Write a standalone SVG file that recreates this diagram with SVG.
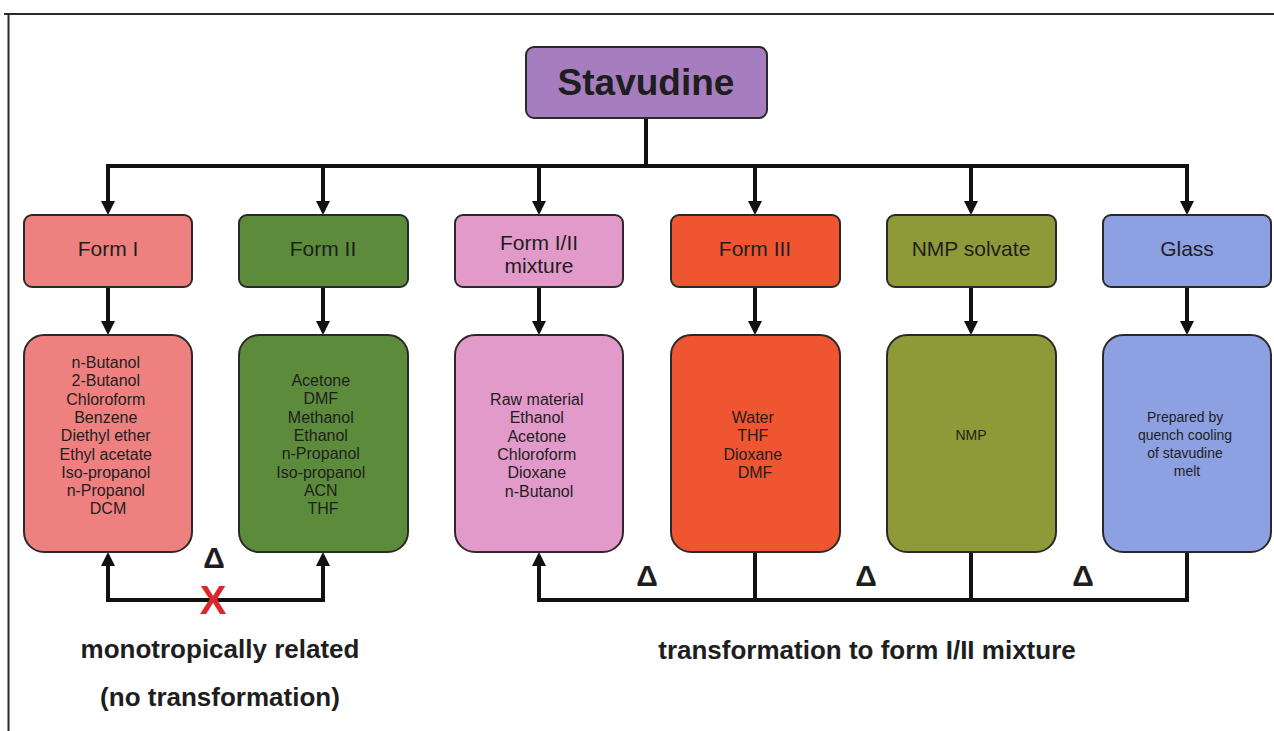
<svg xmlns="http://www.w3.org/2000/svg" width="1274" height="731" viewBox="0 0 1274 731">
  <style>
    .box { stroke: #2a2a2a; stroke-width: 2; }
    .lbl { font-family: "Liberation Sans", Arial, sans-serif; fill: #1e1e1e; text-anchor: middle; }
    .head { font-size: 21px; }
    .list { font-size: 16px; }
    .small { font-size: 14px; }
    .big { font-size: 26px; font-weight: bold; }
    .delta { font-size: 30px; font-weight: bold; }
    .conn { fill: none; stroke: #111; stroke-width: 4; }
    .arr { marker-end: url(#ah); }
  </style>
  <defs>
    <marker id="ah" viewBox="0 0 14 14" refX="6" refY="7" markerWidth="14" markerHeight="14" markerUnits="userSpaceOnUse" orient="auto">
      <path d="M0,0 L14,7 L0,14 z" fill="#111"/>
    </marker>
  </defs>

  <rect width="1274" height="731" fill="#ffffff"/>

  <!-- page frame -->
  <g id="frame" stroke="#2a2a2a" stroke-width="2" fill="none">
    <line x1="4" y1="14" x2="1274" y2="14"/>
    <line x1="8.5" y1="14" x2="8.5" y2="731"/>
  </g>

  <!-- connectors -->
  <g id="connectors">
    <path class="conn" d="M646,118 V166 M106,166 H1189"/>
    <line class="conn arr" x1="108" y1="164" x2="108" y2="207"/>
    <line class="conn arr" x1="323" y1="164" x2="323" y2="207"/>
    <line class="conn arr" x1="539" y1="164" x2="539" y2="207"/>
    <line class="conn arr" x1="755" y1="164" x2="755" y2="207"/>
    <line class="conn arr" x1="971" y1="164" x2="971" y2="207"/>
    <line class="conn arr" x1="1187" y1="164" x2="1187" y2="207"/>

    <line class="conn arr" x1="108" y1="287" x2="108" y2="327"/>
    <line class="conn arr" x1="323" y1="287" x2="323" y2="327"/>
    <line class="conn arr" x1="539" y1="287" x2="539" y2="327"/>
    <line class="conn arr" x1="755" y1="287" x2="755" y2="327"/>
    <line class="conn arr" x1="971" y1="287" x2="971" y2="327"/>
    <line class="conn arr" x1="1187" y1="287" x2="1187" y2="327"/>

    <!-- Form I / Form II link -->
    <path class="conn" d="M108,560 V600 H323 V560"/>
    <line class="conn arr" x1="108" y1="562" x2="108" y2="560"/>
    <line class="conn arr" x1="323" y1="562" x2="323" y2="560"/>

    <!-- transformation links -->
    <path class="conn" d="M755,552 V600 M971,552 V600 M1187,552 V600 H539 V560"/>
    <line class="conn arr" x1="539" y1="562" x2="539" y2="560"/>
  </g>

  <!-- root -->
  <g id="stavudine">
    <rect class="box" x="526" y="47" width="241" height="71" rx="8" fill="#a67dbf"/>
    <text class="lbl" x="646" y="95" font-size="37" font-weight="bold">Stavudine</text>
  </g>

  <!-- forms -->
  <g id="form1">
    <rect class="box" x="24" y="215" width="168" height="72" rx="8" fill="#ee8080"/>
    <text class="lbl head" x="108" y="256">Form I</text>
  </g>
  <g id="form2">
    <rect class="box" x="239" y="215" width="169" height="72" rx="8" fill="#5c8b3b"/>
    <text class="lbl head" x="323" y="256">Form II</text>
  </g>
  <g id="form12">
    <rect class="box" x="455" y="215" width="168" height="72" rx="8" fill="#e29acb"/>
    <text class="lbl head" x="539" y="250">Form I/II</text>
    <text class="lbl head" x="539" y="273">mixture</text>
  </g>
  <g id="form3">
    <rect class="box" x="671" y="215" width="169" height="72" rx="8" fill="#ef5531"/>
    <text class="lbl head" x="755" y="256">Form III</text>
  </g>
  <g id="nmp-solvate">
    <rect class="box" x="887" y="215" width="169" height="72" rx="8" fill="#8e9a37"/>
    <text class="lbl head" x="971" y="256">NMP solvate</text>
  </g>
  <g id="glass">
    <rect class="box" x="1103" y="215" width="168" height="72" rx="8" fill="#8da0e1"/>
    <text class="lbl head" x="1187" y="256">Glass</text>
  </g>

  <!-- solvent lists -->
  <g id="form1-solvents">
    <rect class="box" x="24" y="335" width="168" height="217" rx="20" fill="#ee8080"/>
    <text class="lbl list" x="108" y="368">
      <tspan x="108">n-Butanol</tspan>
      <tspan x="108" dy="18.3">2-Butanol</tspan>
      <tspan x="108" dy="18.3">Chloroform</tspan>
      <tspan x="108" dy="18.3">Benzene</tspan>
      <tspan x="108" dy="18.3">Diethyl ether</tspan>
      <tspan x="108" dy="18.3">Ethyl  acetate</tspan>
      <tspan x="108" dy="18.3">Iso-propanol</tspan>
      <tspan x="108" dy="18.3">n-Propanol</tspan>
      <tspan x="108" dy="18.3">DCM</tspan>
    </text>
  </g>
  <g id="form2-solvents">
    <rect class="box" x="239" y="335" width="169" height="217" rx="20" fill="#5c8b3b"/>
    <text class="lbl list" x="323" y="386">
      <tspan x="323">Acetone</tspan>
      <tspan x="323" dy="18.3">DMF</tspan>
      <tspan x="323" dy="18.3">Methanol</tspan>
      <tspan x="323" dy="18.3">Ethanol</tspan>
      <tspan x="323" dy="18.3">n-Propanol</tspan>
      <tspan x="323" dy="18.3">Iso-propanol</tspan>
      <tspan x="323" dy="18.3">ACN</tspan>
      <tspan x="323" dy="18.3">THF</tspan>
    </text>
  </g>
  <g id="form12-solvents">
    <rect class="box" x="455" y="335" width="168" height="217" rx="20" fill="#e29acb"/>
    <text class="lbl list" x="539" y="405">
      <tspan x="539">Raw material</tspan>
      <tspan x="539" dy="18.3">Ethanol</tspan>
      <tspan x="539" dy="18.3">Acetone</tspan>
      <tspan x="539" dy="18.3">Chloroform</tspan>
      <tspan x="539" dy="18.3">Dioxane</tspan>
      <tspan x="539" dy="18.3">n-Butanol</tspan>
    </text>
  </g>
  <g id="form3-solvents">
    <rect class="box" x="671" y="335" width="169" height="217" rx="20" fill="#ef5531"/>
    <text class="lbl list" x="755" y="423">
      <tspan x="755">Water</tspan>
      <tspan x="755" dy="18.3">THF</tspan>
      <tspan x="755" dy="18.3">Dioxane</tspan>
      <tspan x="755" dy="18.3">DMF</tspan>
    </text>
  </g>
  <g id="nmp-source">
    <rect class="box" x="887" y="335" width="169" height="217" rx="20" fill="#8e9a37"/>
    <text class="lbl small" x="971" y="440">NMP</text>
  </g>
  <g id="glass-source">
    <rect class="box" x="1103" y="335" width="168" height="217" rx="20" fill="#8da0e1"/>
    <text class="lbl small" x="1187" y="422">
      <tspan x="1187">Prepared by</tspan>
      <tspan x="1187" dy="18">quench cooling</tspan>
      <tspan x="1187" dy="18">of stavudine</tspan>
      <tspan x="1187" dy="18">melt</tspan>
    </text>
  </g>

  <!-- heating marks and relation labels -->
  <g id="annotations">
    <text class="lbl delta" x="214" y="568">Δ</text>
    <text class="lbl delta" x="647" y="586">Δ</text>
    <text class="lbl delta" x="866" y="586">Δ</text>
    <text class="lbl delta" x="1083" y="586">Δ</text>
    <text class="lbl" x="213" y="614" font-size="40" font-weight="bold" style="fill:#d8282c">X</text>
    <text class="lbl big" x="220" y="658">monotropically related</text>
    <text class="lbl big" x="220" y="706">(no transformation)</text>
    <text class="lbl big" x="867" y="659">transformation to form I/II mixture</text>
  </g>
</svg>
